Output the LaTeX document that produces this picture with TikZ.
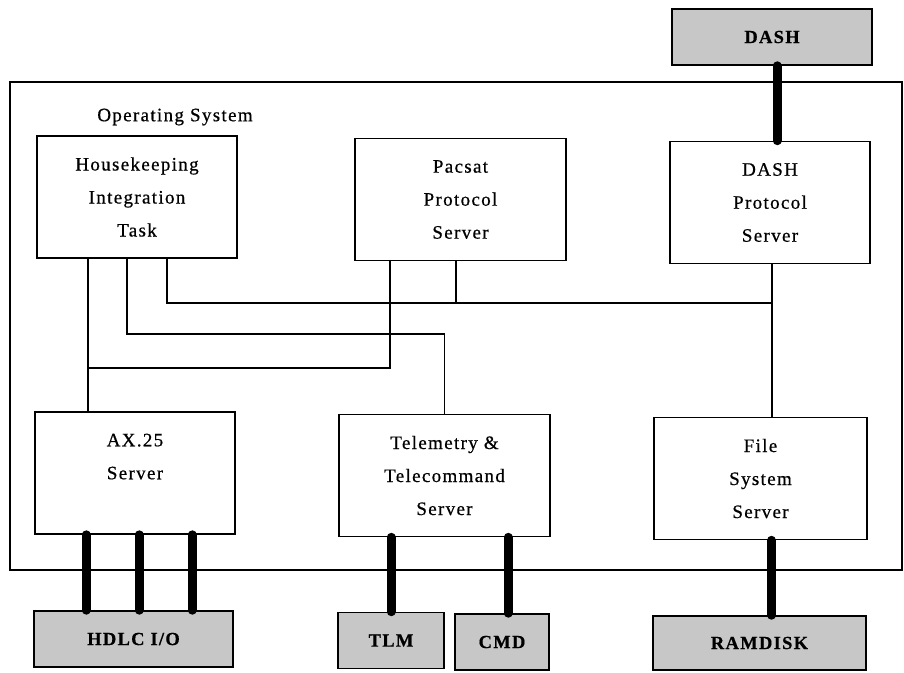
\documentclass[tikz,border=0pt]{standalone}
\usepackage{fontspec}
\setmainfont{Liberation Serif}[LetterSpace=7, FakeBold=0.6]

\tikzset{
	srv/.style={draw, line width=1.6pt, minimum width=200pt, minimum height=122pt, inner sep=0pt, align=center, font=\fontsize{19}{33}\selectfont},
	dev/.style={draw, line width=1.6pt, fill=black!22, minimum height=56pt, inner sep=0pt, font=\fontsize{18.5}{20}\selectfont\bfseries},
	link/.style={line width=1.6pt},
	bus/.style={line width=9pt, line cap=round},
}

\begin{document}
\begin{tikzpicture}[x=1pt,y=-1pt]
	\useasboundingbox (0,0) rectangle (904,672);
	\draw [link] (10,82) rectangle (902,570);
	\node [font=\fontsize{19}{20}\selectfont] (os) at (175,117) {Operating System};

	\node [srv] (hk) at (137,197) {Housekeeping\\Integration\\Task};
	\node [srv, minimum width=211pt] (pac) at (460.5,199.5) {Pacsat\\Protocol\\Server};
	\node [srv] (dps) at (770,202.5) {DASH\\Protocol\\Server};
	\node [srv] (ax) at (135,473) {AX.25\\Server\\~};
	\node [srv, minimum width=211pt] (tc) at (444.5,475.5) {Telemetry \&\\Telecommand\\Server};
	\node [srv, minimum width=213pt] (fss) at (760.5,478.5) {File\\System\\Server};

	\node [dev, minimum width=200pt] (dash) at (772,37) {DASH};
	\node [dev, minimum width=199pt] (hdlc) at (133.5,639) {HDLC I/O};
	\node [dev, minimum width=106pt] (tlm) at (391,640.5) {TLM};
	\node [dev, minimum width=94pt] (cmd) at (502,642) {CMD};
	\node [dev, minimum width=213pt, minimum height=54pt] (ram) at (759.5,643) {RAMDISK};

	% drop points and bus levels
	\coordinate (hkA) at ([xshift=52pt]hk.south west);
	\coordinate (hkB) at ([xshift=91pt]hk.south west);
	\coordinate (hkC) at ([xshift=131pt]hk.south west);
	\coordinate (pacA) at ([xshift=36pt]pac.south west);
	\coordinate (pacB) at ([xshift=102pt]pac.south west);
	\coordinate (dpsA) at ([xshift=103pt]dps.south west);
	\coordinate (busA) at (0,303);
	\coordinate (busB) at (0,334);
	\coordinate (busC) at (0,368);

	\draw [link] (hkA) -- (hkA |- ax.north);
	\draw [link] (pacA) |- (hkA |- busC);
	\draw [link] (hkB) |- (tc.north |- busB) -- (tc.north);
	\draw [link] (hkC) |- (dpsA |- busA);
	\draw [link] (pacB) -- (pacB |- busA);
	\draw [link] (dpsA) -- (dpsA |- fss.north);

	\draw [bus] ([xshift=5pt]dash.south) -- ([xshift=5pt]dash.south |- dps.north);
	\foreach \dx in {-49, 4, 57} {
		\draw [bus] ([xshift=\dx pt]ax.south) -- ([xshift=\dx pt]ax.south |- hdlc.north);
	}
	\draw [bus] (tlm.north) -- (tlm.north |- tc.south);
	\draw [bus] ([xshift=6pt]cmd.north) -- ([xshift=6pt]cmd.north |- tc.south);
	\draw [bus] ([xshift=11pt]fss.south) -- ([xshift=11pt]fss.south |- ram.north);
\end{tikzpicture}
\end{document}
